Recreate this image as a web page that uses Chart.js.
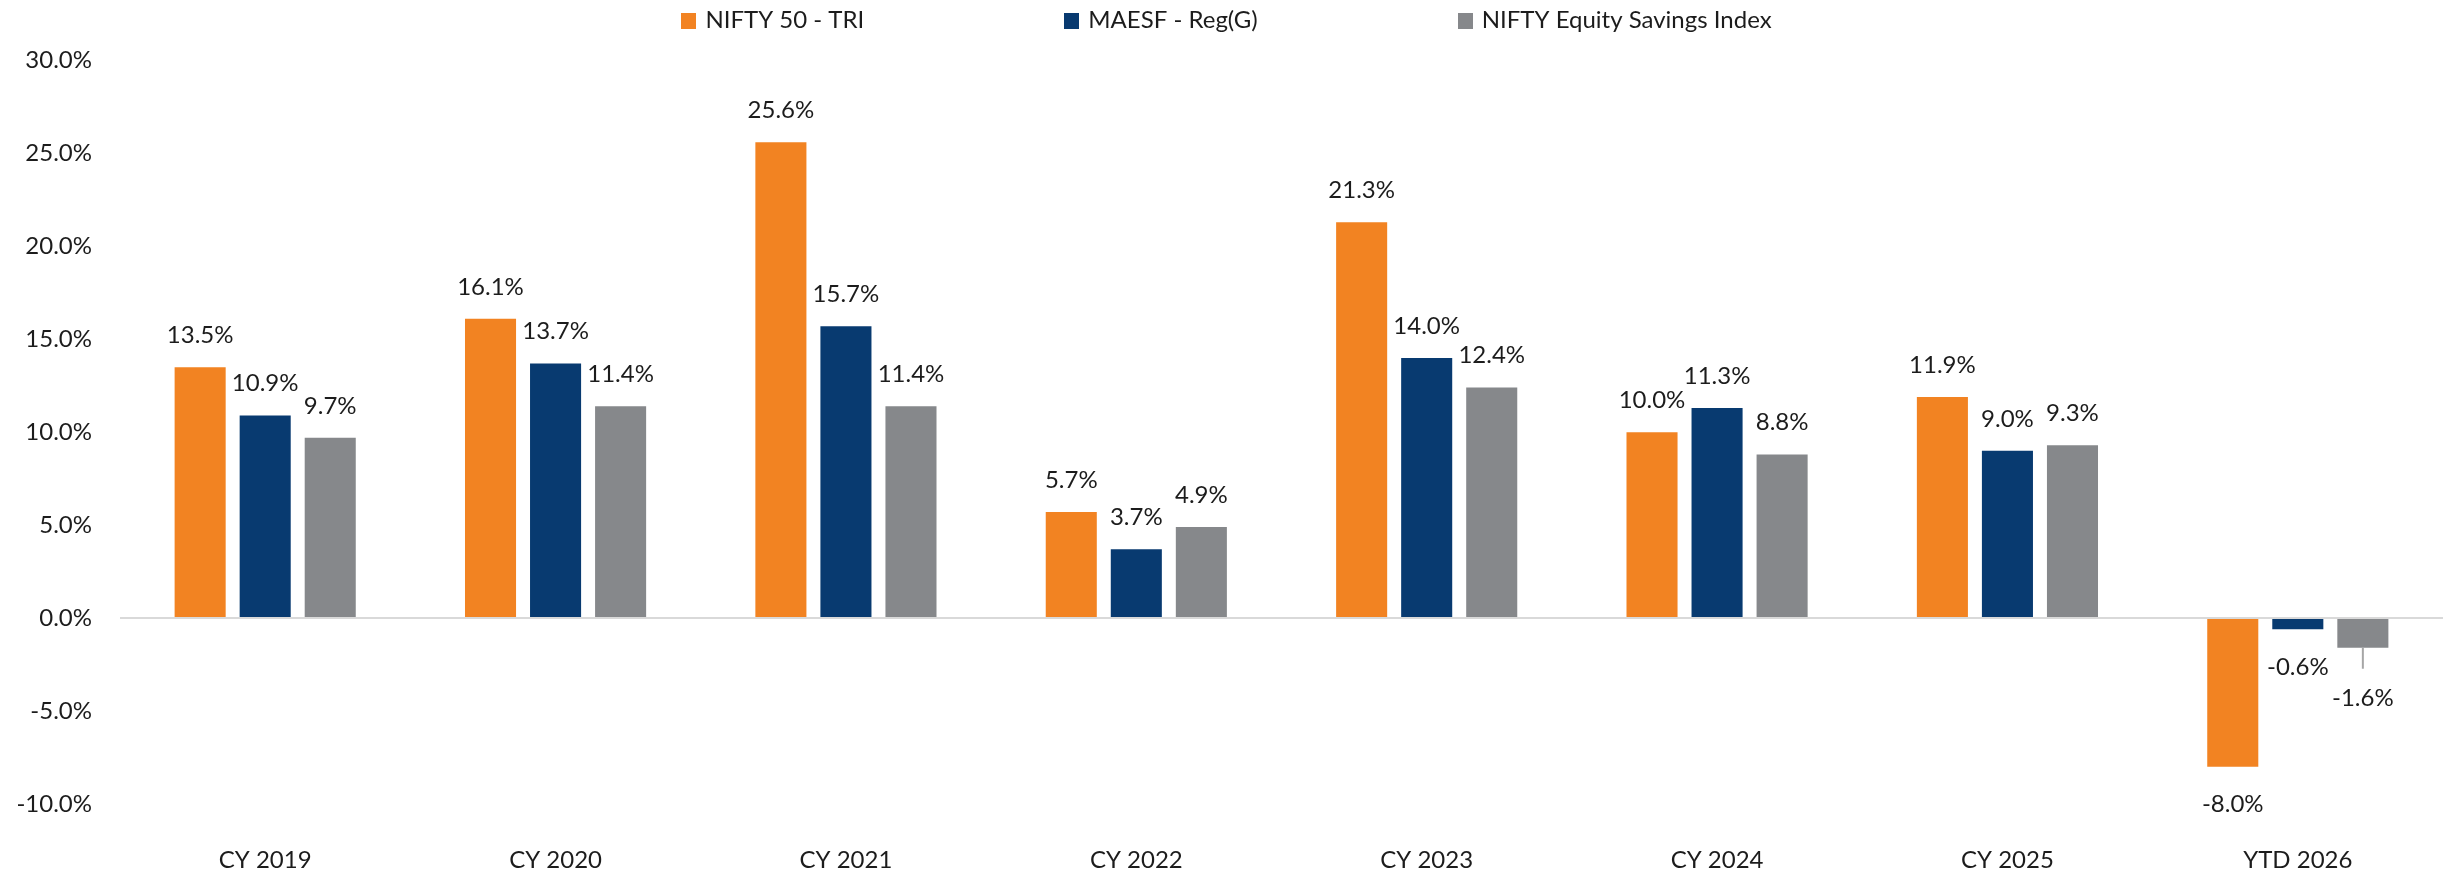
<!DOCTYPE html>
<html>
<head>
<meta charset="utf-8">
<script src="https://cdn.jsdelivr.net/npm/chart.js@4.4.1/dist/chart.umd.min.js"></script>
<style>
  html, body { margin: 0; padding: 0; background: #ffffff; }
  #wrap { width: 2453px; height: 874px; }
</style>
</head>
<body>
<div id="wrap"><canvas id="c" width="2453" height="874" style="width:2453px;height:874px"></canvas></div>
<script>
const categories = ['CY 2019', 'CY 2020', 'CY 2021', 'CY 2022', 'CY 2023', 'CY 2024', 'CY 2025', 'YTD 2026'];
const seriesNames = ['NIFTY 50 - TRI', 'MAESF - Reg(G)', 'NIFTY Equity Savings Index'];
const nifty50Tri = [13.5, 16.1, 25.6, 5.7, 21.3, 10.0, 11.9, -8.0];
const maesfRegG = [10.9, 13.7, 15.7, 3.7, 14.0, 11.3, 9.0, -0.6];
const niftyEquitySavings = [9.7, 11.4, 11.4, 4.9, 12.4, 8.8, 9.3, -1.6];
const yMin = -10;
const yMax = 30;
const yStep = 5;

const colors = ['#F28322', '#083A70', '#86888B'];
const FONT = 'Lato, "Open Sans", sans-serif';
const TEXT = '#1c1c1c';

const legendPlugin = {
  id: 'customLegend',
  afterDraw(chart) {
    const ctx = chart.ctx;
    ctx.save();
    ctx.font = '24px ' + FONT;
    ctx.textBaseline = 'middle';
    ctx.textAlign = 'left';
    const box = 15, gapBox = 9, gapItem = 200;
    const items = chart.data.datasets.map(d => ({ text: d.label, color: d.backgroundColor, w: ctx.measureText(d.label).width }));
    let total = 0;
    items.forEach((it, i) => { total += box + gapBox + it.w + (i < items.length - 1 ? gapItem : 0); });
    let x = chart.width / 2 - total / 2;
    const cy = 20.5;
    items.forEach(it => {
      ctx.fillStyle = it.color;
      ctx.fillRect(Math.round(x), Math.round(cy - 7.5), box, box + 1);
      ctx.fillStyle = TEXT;
      ctx.fillText(it.text, x + box + gapBox, cy);
      x += box + gapBox + it.w + gapItem;
    });
    ctx.restore();
  }
};

const labelPlugin = {
  id: 'barValueLabels',
  afterDatasetsDraw(chart) {
    const ctx = chart.ctx;
    ctx.save();
    ctx.font = '24px ' + FONT;
    ctx.textAlign = 'center';
    ctx.textBaseline = 'middle';
    const n = chart.data.labels.length;
    for (let i = 0; i < n; i++) {
      let prev = null;
      chart.data.datasets.forEach((ds, di) => {
        const el = chart.getDatasetMeta(di).data[i];
        const v = ds.data[i];
        const txt = v.toFixed(1) + '%';
        const w = ctx.measureText(txt).width;
        let y = v >= 0 ? el.y - 32 : el.y + 38;
        let leader = false;
        if (prev && v < 0 && prev.v < 0) {
          const overlapX = (el.x - w / 2) < prev.right + 10;
          const overlapY = Math.abs(y - prev.y) < 28;
          if (overlapX && overlapY) {
            y = prev.y + 31;
            leader = true;
          }
        }
        if (leader) {
          ctx.strokeStyle = '#A6A6A6';
          ctx.lineWidth = 2;
          ctx.beginPath();
          ctx.moveTo(el.x, el.y);
          ctx.lineTo(el.x, el.y + 21);
          ctx.stroke();
        }
        ctx.fillStyle = TEXT;
        ctx.fillText(txt, el.x, y);
        prev = { v, y, right: el.x + w / 2 };
      });
    }
    ctx.restore();
  }
};

function start() {
  new Chart(document.getElementById('c'), {
    type: 'bar',
    data: {
      labels: categories,
      datasets: [
        { label: seriesNames[0], data: nifty50Tri, backgroundColor: colors[0] },
        { label: seriesNames[1], data: maesfRegG, backgroundColor: colors[1] },
        { label: seriesNames[2], data: niftyEquitySavings, backgroundColor: colors[2] }
      ]
    },
    options: {
      responsive: false,
      animation: false,
      devicePixelRatio: 1,
      layout: { padding: { top: 60.6, right: 10, bottom: 0, left: 0 } },
      datasets: { bar: { barPercentage: 0.785, categoryPercentage: 0.672 } },
      plugins: { legend: { display: false }, tooltip: { enabled: false } },
      scales: {
        x: {
          grid: { display: false, drawTicks: false },
          border: { display: false },
          ticks: { color: TEXT, font: { family: FONT, size: 24 }, padding: 42, maxRotation: 0 },
          afterFit(scale) { scale.height = 70.2; }
        },
        y: {
          min: yMin, max: yMax,
          grid: {
            drawTicks: false,
            lineWidth: 2,
            color: c => (c.tick && c.tick.value === 0 ? '#D9D9D9' : 'rgba(0,0,0,0)')
          },
          border: { display: false },
          ticks: {
            stepSize: yStep,
            color: TEXT,
            font: { family: FONT, size: 24 },
            padding: 28,
            callback: v => Number(v).toFixed(1) + '%'
          },
          afterFit(scale) { scale.width = 120; }
        }
      }
    },
    plugins: [labelPlugin, legendPlugin]
  });
}

if (document.fonts && document.fonts.load) {
  document.fonts.load('24px Lato').then(start, start);
} else {
  start();
}
</script>
</body>
</html>
